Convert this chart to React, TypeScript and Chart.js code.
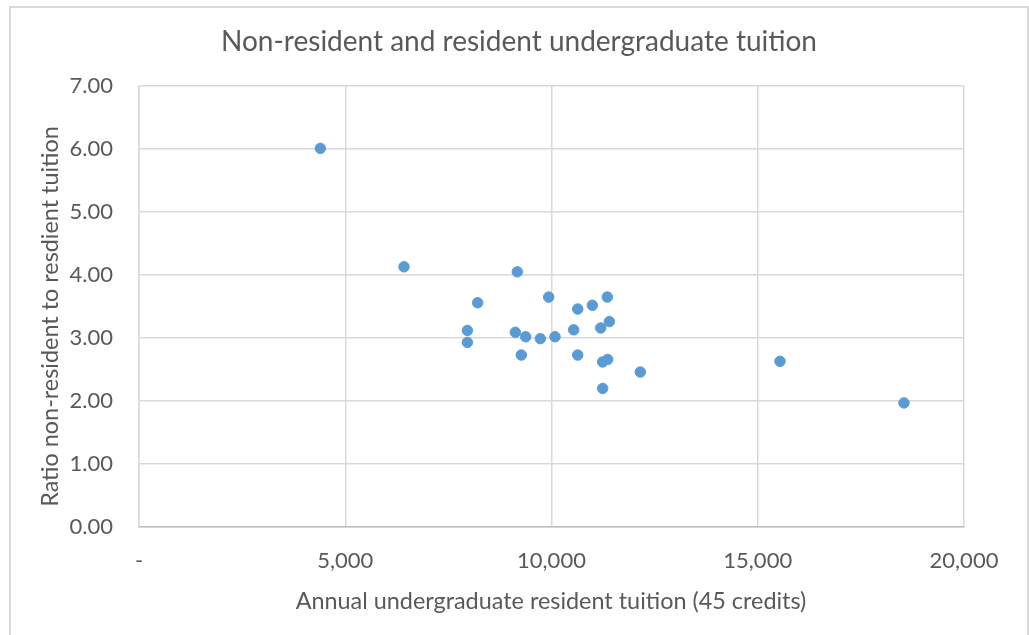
import React, { useEffect, useRef } from "react";
import { Chart, registerables } from "chart.js";

Chart.register(...registerables);

// Annual resident undergraduate tuition (45 credits), in dollars
const residentTuition: number[] = [
  4396, 6424, 7960, 7960, 8210, 9123, 9171, 9268, 9374, 9729, 9932, 10085,
  10538, 10635, 10635, 10990, 11193, 11241, 11241, 11353, 11362, 11402, 12153,
  15539, 18545,
];

// Ratio of non-resident to resident tuition for the same institutions
const tuitionRatio: number[] = [
  6.01, 4.13, 3.12, 2.93, 3.56, 3.09, 4.05, 2.73, 3.02, 2.99, 3.65, 3.02,
  3.13, 3.46, 2.73, 3.52, 3.16, 2.62, 2.2, 3.65, 2.66, 3.26, 2.46, 2.63, 1.97,
];

const chartTitle = "Non-resident and resident undergraduate tuition";
const xAxisTitle = "Annual undergraduate resident tuition (45 credits)";
const yAxisTitle = "Ratio non-resident to resdient tuition";

const xTicks: number[] = [0, 5000, 10000, 15000, 20000];

const TEXT = "#595959";
const GRID = "#d9d9d9";
const DOT = "#5b9bd5";
const FONT = "Lato, 'Open Sans', sans-serif";

// Title and axis captions placed like the spreadsheet chart does
const captionPlugin = {
  id: "captions",
  afterDraw(chart: Chart) {
    const { ctx, chartArea } = chart;
    ctx.save();
    ctx.fillStyle = TEXT;
    ctx.textAlign = "center";
    ctx.textBaseline = "alphabetic";
    ctx.font = `28px ${FONT}`;
    ctx.fillText(chartTitle, 519, 51);

    ctx.font = `23.4px ${FONT}`;
    ctx.textBaseline = "middle";
    ctx.fillText(xAxisTitle, 551, 601);

    ctx.translate(50, (chartArea.top + chartArea.bottom) / 2 + 10);
    ctx.rotate(-Math.PI / 2);
    ctx.fillText(yAxisTitle, 0, 0);
    ctx.restore();
  },
};

export default function App() {
  const canvasRef = useRef<HTMLCanvasElement | null>(null);

  useEffect(() => {
    if (!canvasRef.current) return;
    const points = residentTuition.map((x, i) => ({ x, y: tuitionRatio[i] }));
    const chart = new Chart(canvasRef.current, {
      type: "scatter",
      data: {
        datasets: [
          {
            data: points,
            backgroundColor: DOT,
            borderColor: DOT,
            pointRadius: 5.25,
            borderWidth: 1,
            pointHoverRadius: 5.25,
          },
        ],
      },
      options: {
        animation: false,
        responsive: false,
        devicePixelRatio: 1,
        events: [],
        layout: { padding: { top: 86, right: 65, bottom: 0, left: 0 } },
        plugins: {
          legend: { display: false },
          title: { display: false },
          tooltip: { enabled: false },
        },
        scales: {
          x: {
            type: "linear",
            min: 0,
            max: 20000,
            afterFit(scale: any) {
              scale.height = 108;
            },
            afterBuildTicks(scale: any) {
              scale.ticks = xTicks.map((v) => ({ value: v }));
            },
            grid: { color: GRID, lineWidth: 1.5, drawTicks: false },
            border: { color: "#bfbfbf", width: 1.5 },
            ticks: {
              color: TEXT,
              font: { family: FONT, size: 22 },
              padding: 21,
              maxRotation: 0,
              callback: (v: any) =>
                Number(v) === 0 ? "-" : Number(v).toLocaleString("en-US"),
            },
          },
          y: {
            type: "linear",
            min: 0,
            max: 7,
            afterFit(scale: any) {
              scale.width = 139;
            },
            grid: { color: GRID, lineWidth: 1.5, drawTicks: false },
            border: { color: GRID, width: 1.5 },
            ticks: {
              stepSize: 1,
              color: TEXT,
              font: { family: FONT, size: 22 },
              padding: 26,
              callback: (v: any) => Number(v).toFixed(2),
            },
          },
        },
      },
      plugins: [captionPlugin],
    });
    return () => chart.destroy();
  }, []);

  return (
    <>
      <div
        style={{
          position: "absolute",
          left: 9,
          top: 6,
          width: 1020,
          height: 629,
          boxSizing: "border-box",
          borderTop: "2px solid #d9d9d9",
          borderLeft: "2px solid #d9d9d9",
          borderRight: "2px solid #d9d9d9",
        }}
      />
      <canvas
        ref={canvasRef}
        width={1029}
        height={635}
        style={{ position: "absolute", left: 0, top: 0, width: 1029, height: 635 }}
      />
    </>
  );
}
